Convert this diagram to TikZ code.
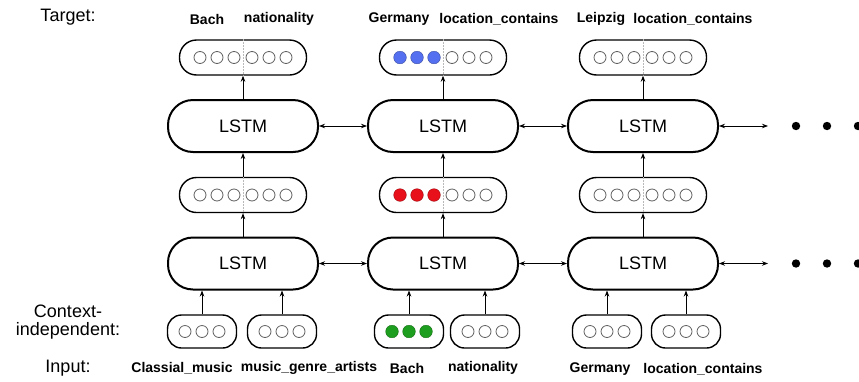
\documentclass[tikz,border=0pt]{standalone}
\usepackage{fontspec}
\setmainfont{Liberation Sans}
\usetikzlibrary{arrows.meta,calc}
\definecolor{cblue}{HTML}{5470F0}
\definecolor{cred}{HTML}{E8101A}
\definecolor{cgreen}{HTML}{1E9E1E}
\tikzset{
  lstm/.style={draw, line width=2pt, rounded corners=25pt, minimum width=150pt, minimum height=52pt, inner sep=0pt, font=\fontsize{18}{20}\selectfont},
  vecbox/.style={draw, line width=1.4pt, rounded corners=17pt, minimum width=127pt, minimum height=35pt, inner sep=0pt},
  ctxbox/.style={draw, line width=1.4pt, rounded corners=14pt, minimum width=69pt, minimum height=33pt, inner sep=0pt},
  lbl/.style={font=\fontsize{14}{16}\selectfont\bfseries, inner sep=0pt},
  side/.style={font=\fontsize{18}{20}\selectfont, inner sep=0pt, align=center},
  arr/.style={line width=0.8pt, -{Stealth[length=6pt,width=4.5pt]}},
  darr/.style={line width=0.8pt, {Stealth[length=6pt,width=4.5pt]}-{Stealth[length=6pt,width=4.5pt]}},
  divider/.style={gray!55, line width=0.6pt, dashed, dash pattern=on 2pt off 1pt},
  emptydot/.style={draw=gray!75!black, line width=0.8pt},
}
\begin{document}
\begin{tikzpicture}[x=1pt,y=-1pt]
\useasboundingbox (0,0) rectangle (859,381);
\fill[white] (0,0) rectangle (859,381);

% side labels
\node[side] (tgtlbl) at (68,17) {Target:};
\node[side] (ctxlbl) at (68,322) {Context-\\[-2pt]independent:};
\node[side] (inlbl) at (68,368) {Input:};

% columns
\foreach \i/\x in {1/243,2/443,3/643}{
  \node[vecbox] (out\i) at (\x,57.5) {};
  \node[lstm] (lt\i) at (\x,126) {LSTM};
  \node[vecbox] (mid\i) at (\x,195) {};
  \node[lstm] (lb\i) at (\x,263.5) {LSTM};
  \draw[divider] (out\i.north) -- (out\i.south);
  \draw[divider] (mid\i.north) -- (mid\i.south);
  \draw[arr] (lt\i.north) -- (out\i.south);
  \draw[arr] (mid\i.north) -- (lt\i.south);
  \draw[arr] (lb\i.north) -- (mid\i.south);
}

% vector circles (six per box)
\foreach \i/\x in {1/243,2/443,3/643}{
  \foreach \o in {-43,-26,-9,9,26,43}{
    \draw[emptydot] (\x+\o,57.5) circle (6pt);
    \draw[emptydot] (\x+\o,195) circle (6pt);
  }
}
\foreach \o in {-43,-26,-9}{
  \fill[white] (443+\o,57.5) circle (6.8pt);
  \fill[cblue, draw=cblue!70!black, line width=0.4pt] (443+\o,57.5) circle (6.3pt);
  \fill[white] (443+\o,195) circle (6.8pt);
  \fill[cred, draw=cred!70!black, line width=0.4pt] (443+\o,195) circle (6.3pt);
}

% context-independent boxes
\foreach \n/\x in {c1a/202,c1b/282,c2a/409,c2b/485,c3a/607,c3b/686}{
  \node[ctxbox] (\n) at (\x,331.5) {};
  \foreach \o in {-17,0,17}{
    \draw[emptydot] (\x+\o,331.5) circle (6pt);
  }
}
\foreach \o in {-17,0,17}{
  \fill[white] (409+\o,331.5) circle (6.8pt);
  \fill[cgreen, draw=cgreen!70!black, line width=0.4pt] (409+\o,331.5) circle (6.3pt);
}
\foreach \n/\c in {c1a/1,c1b/1,c2a/2,c2b/2,c3a/3,c3b/3}{
  \draw[arr] (\n.north) -- (\n.north |- lb\c.south);
}

% horizontal connections
\coordinate (endT) at (768,126);
\coordinate (endB) at (768,263.5);
\draw[darr] (lt1.east) -- (lt2.west);
\draw[darr] (lt2.east) -- (lt3.west);
\draw[darr] (lb1.east) -- (lb2.west);
\draw[darr] (lb2.east) -- (lb3.west);
\draw[darr] (lt3.east) -- (endT);
\draw[darr] (lb3.east) -- (endB);
\foreach \x in {796,827,858}{
  \fill (\x,126) circle (4.2pt);
  \fill (\x,263.5) circle (4.2pt);
}

% target labels
\node[lbl] (t1a) at (207,19) {Bach};
\node[lbl] (t1b) at (279,19) {nationality};
\node[lbl] (t2a) at (399,19) {Germany};
\node[lbl] (t2b) at (499,19) {location\_contains};
\node[lbl] (t3a) at (601,19) {Leipzig};
\node[lbl] (t3b) at (693,19) {location\_contains};

% input labels
\node[lbl] (i1a) at (182,368) {Classial\_music};
\node[lbl] (i1b) at (309,368) {music\_genre\_artists};
\node[lbl] (i2a) at (407,368) {Bach};
\node[lbl] (i2b) at (483,368) {nationality};
\node[lbl] (i3a) at (600,369) {Germany};
\node[lbl] (i3b) at (703,369) {location\_contains};
\end{tikzpicture}
\end{document}
